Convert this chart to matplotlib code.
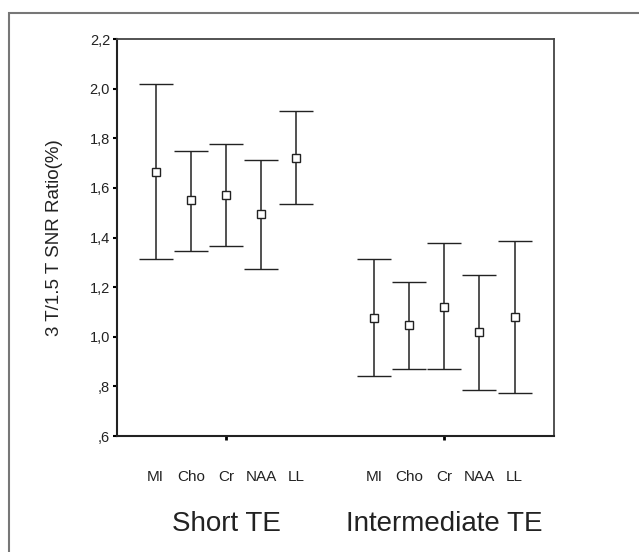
import numpy as np
import matplotlib.pyplot as plt
from matplotlib.patches import Rectangle
from matplotlib.transforms import blended_transform_factory

plt.rcParams['font.family'] = ['Liberation Sans', 'DejaVu Sans']

metabolites = ['MI', 'Cho', 'Cr', 'NAA', 'LL']
groups = ['Short TE', 'Intermediate TE']

# mean and 95% CI bounds of the 3T/1.5T SNR ratio
short_mean = [1.665, 1.550, 1.571, 1.493, 1.721]
short_low = [1.314, 1.346, 1.367, 1.273, 1.537]
short_high = [2.017, 1.748, 1.777, 1.711, 1.910]

inter_mean = [1.075, 1.047, 1.122, 1.020, 1.080]
inter_low = [0.840, 0.872, 0.872, 0.786, 0.774]
inter_high = [1.313, 1.221, 1.379, 1.250, 1.387]

yticks = [0.6, 0.8, 1.0, 1.2, 1.4, 1.6, 1.8, 2.0, 2.2]

group_centers = [0, 6.2]
offsets = np.arange(len(metabolites)) - 2

fig = plt.figure(figsize=(6.39, 5.52), dpi=100)
ax = fig.add_axes([0.1831, 0.2101, 0.6839, 0.7192])

# outer frame of the original figure
fig.patches.append(Rectangle((9 / 639, -0.1), 2, 1 - 13 / 552 + 0.1, fill=False,
                             edgecolor='#777777', lw=1.5, transform=fig.transFigure))

for c, mean, low, high in [(group_centers[0], short_mean, short_low, short_high),
                           (group_centers[1], inter_mean, inter_low, inter_high)]:
    x = c + offsets
    mean = np.array(mean)
    yerr = [mean - np.array(low), np.array(high) - mean]
    ax.errorbar(x, mean, yerr=yerr, fmt='s', mfc='white', mec='#222222', mew=1.0,
                ms=5.5, ecolor='#222222', elinewidth=1.1, capsize=12.5, capthick=1.1)

ax.set_xlim(-3.1, 9.32)
ax.set_ylim(0.6, 2.2)

def fmt(v):
    s = f"{v:.1f}".replace('.', ',')
    return s[1:] if s.startswith('0') else s

ax.set_yticks(yticks)
ax.set_yticklabels([fmt(v) for v in yticks], fontsize=10.5, color='#222222')
ax.tick_params(axis='y', length=3, width=1.5, direction='out', pad=2, color='black')
ax.set_xticks(group_centers)
ax.set_xticklabels([])
ax.tick_params(axis='x', length=3, width=2, direction='out', color='black')

ax.set_ylabel('3 T/1.5 T SNR Ratio(%)', fontsize=13.5, color='#222222')
ax.yaxis.set_label_coords(-54 / 437, 0.5)

for side in ['left', 'bottom']:
    ax.spines[side].set_linewidth(1.5)
    ax.spines[side].set_color('#222222')
for side in ['top', 'right']:
    ax.spines[side].set_linewidth(1.3)
    ax.spines[side].set_color('#444444')

trans = blended_transform_factory(ax.transData, ax.transAxes)
for c in group_centers:
    for off, name in zip(offsets, metabolites):
        ax.text(c + off, -0.1033, name, transform=trans, ha='center', va='center',
                fontsize=11, color='#222222')
for c, g in zip(group_centers, groups):
    ax.text(c, -0.2217, g, transform=trans, ha='center', va='center',
            fontsize=20, color='#222222')

fig.savefig('out.png', dpi=100)
